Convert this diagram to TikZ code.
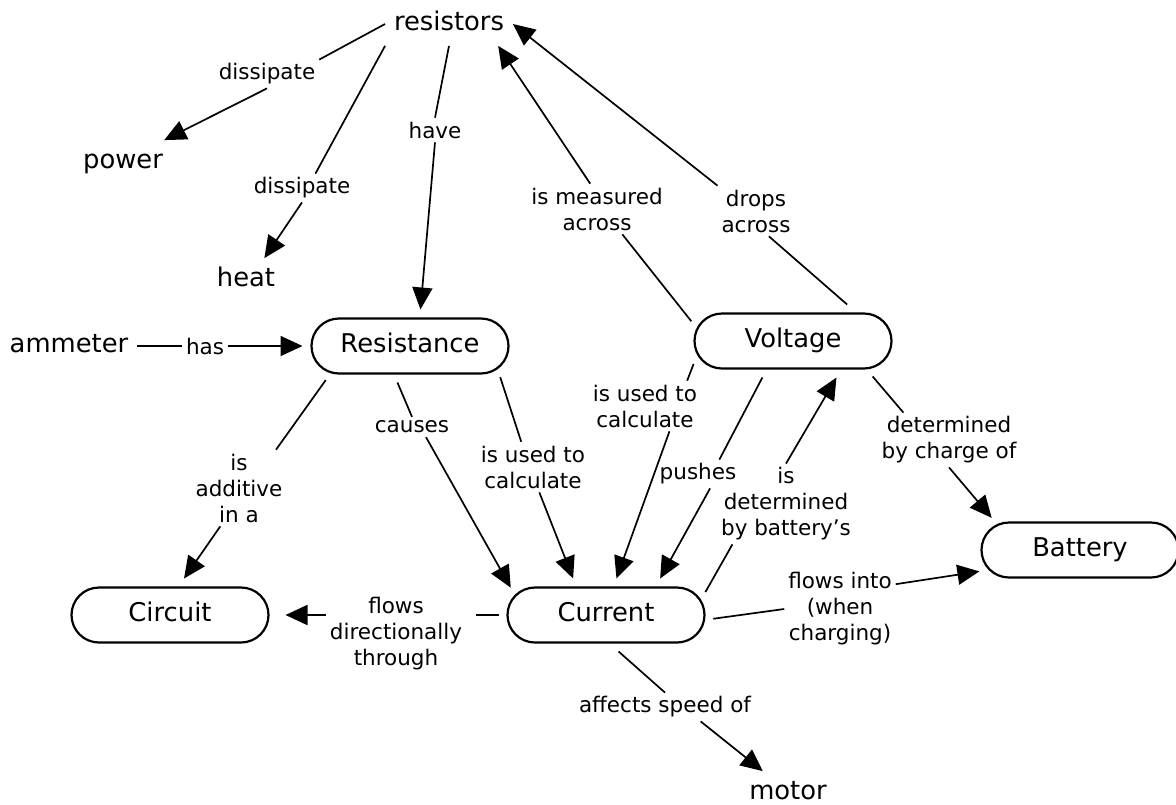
\documentclass[tikz,border=0pt]{standalone}
\usepackage{fontspec}
\setmainfont{DejaVu Sans}
\usetikzlibrary{arrows.meta,shapes.misc}

\begin{document}
\begin{tikzpicture}[x=1pt,y=-1pt,
    concept/.style={rounded rectangle, draw, line width=2.2pt, minimum width=197pt, minimum height=55pt, inner sep=0pt, outer sep=9pt, font=\fontsize{25.8}{31}\selectfont, text height=19.6pt, text depth=6.2pt},
    word/.style={inner sep=0pt, outer sep=9pt, font=\fontsize{25.8}{31}\selectfont, text height=19.6pt, text depth=6.2pt},
    link/.style={inner sep=2pt, outer sep=2pt, align=center, font=\fontsize{21.5}{26}\selectfont},
    tie/.style={line width=1.7pt},
    arr/.style={tie, -{Triangle[length=22pt,width=20pt]}}]
    \useasboundingbox (0,0) rectangle (1176,804);

    \node[word] (res) at (449,24) {resistors};
    \node[word] (power) at (123,162) {power};
    \node[word] (heat) at (246,280) {heat};
    \node[word] (amm) at (69,346) {ammeter};
    \node[word] (motor) at (788,793) {motor};
    \node[concept] (resi) at (410,346) {Resistance};
    \node[concept] (volt) at (793,341) {Voltage};
    \node[concept] (circ) at (170,615) {Circuit};
    \node[concept] (curr) at (606,615) {Current};
    \node[concept] (batt) at (1080,550) {Battery};

    \node[link] (dis1) at (267,74) {dissipate};
    \node[link] (dis2) at (302,188) {dissipate};
    \node[link] (have) at (435,130) {have};
    \node[link] (has) at (205,346) {has};
    \node[link] (meas) at (597,209) {is measured\\across};
    \node[link] (drops) at (756,211) {drops\\across};
    \node[link] (addi) at (239,488) {is\\additive\\in a};
    \node[link] (causes) at (412,427) {causes};
    \node[link] (calc1) at (533,467) {is used to\\calculate};
    \node[link] (calc2) at (645,406) {is used to\\calculate};
    \node[link] (pushes) at (698,474) {pushes};
    \node[link] (deter) at (786,504) {is\\determined\\by battery’s};
    \node[link] (charge) at (949,440) {determined\\by charge of};
    \node[link] (flows) at (396,634) {flows\\directionally\\through};
    \node[link] (into) at (840,609) {flows into\\(when\\charging)};
    \node[link] (affects) at (665,707) {affects speed of};

    \draw[tie] (res.west) -- (dis1.north east);
    \draw[arr] (dis1.south) -- (power.28);
    \draw[tie] (res.south west) -- (dis2.47);
    \draw[arr] (dis2.south) -- (heat.50);
    \draw[tie] (res.south) -- (have.north);
    \draw[arr] (have.south) -- (resi.74);
    \draw[tie] (volt.169) -- (meas.-45);
    \draw[arr] (meas.105) -- (res.-24);
    \draw[tie] (volt.34) -- (drops.-63);
    \draw[arr] (drops.north west) -- (res.east);
    \draw[tie] (amm) -- (has);
    \draw[arr] (has) -- (resi);
    \draw[tie] (resi.202) -- (addi.46);
    \draw[arr] (addi.-116) -- (circ.69);
    \draw[tie] (resi.-109) -- (causes.north);
    \draw[arr] (causes.-36) -- (curr.164);
    \draw[tie] (resi.-19) -- (calc1.115);
    \draw[arr] (calc1.-76) -- (curr.132);
    \draw[tie] (volt.193) -- (calc2.31);
    \draw[arr] (calc2.-46) -- (curr.74);
    \draw[tie] (volt.-130) -- (pushes.34);
    \draw[arr] (pushes.-50) -- (curr.34);
    \draw[tie] (curr.13) -- (deter.-143);
    \draw[arr] (deter.north) -- (volt.-40);
    \draw[tie] (volt.-24) -- (charge.149);
    \draw[arr] (charge.south) -- (batt.160);
    \draw[tie] (curr.-2) -- (into.west);
    \draw[arr] (into.24) -- (batt.192);
    \draw[tie, shorten >=10pt] (curr) -- (curr -| flows.east);
    \draw[arr, shorten >=8pt] (circ -| flows.west) -- (circ);
    \draw[tie] (curr.-71) -- (affects.north);
    \draw[arr] (affects.-22) -- (motor.139);
\end{tikzpicture}
\end{document}
